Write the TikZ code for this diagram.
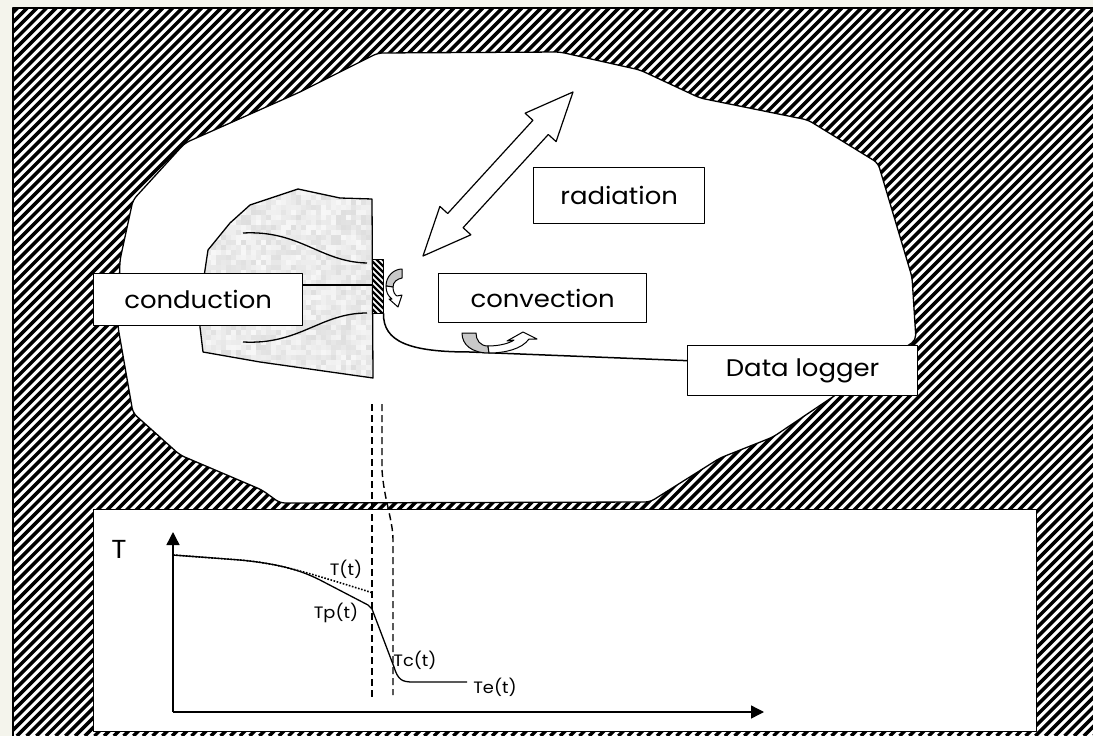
\documentclass[tikz,border=0pt]{standalone}
\usepackage{fontspec}
\setmainfont{Poppins}[FakeStretch=1.08]
\usetikzlibrary{calc,arrows.meta}

\definecolor{paper}{RGB}{244,244,236}
\definecolor{flow}{RGB}{200,200,200}

\begin{document}
\begin{tikzpicture}[x=1pt,y=-1pt,line join=round,
  outline/.style={draw=black,line width=1.3pt},
  labelbox/.style={outline,fill=white,anchor=north west,inner sep=0pt,
    font=\fontsize{24}{28}\selectfont},
  small/.style={inner sep=0pt,font=\fontsize{16.5}{19}\selectfont},
  axis/.style={line width=1.4pt,-{Triangle[length=13pt,width=13pt]}},
  guide/.style={line width=1.4pt,dash pattern=on 7pt off 4pt}]

\useasboundingbox (0,0) rectangle (1093,736);
\fill[paper] (0,0) rectangle (1093,736);

% hatched enclosure walls
\begin{scope}
  \clip (13,8) rectangle (1093,736);
  \fill[white] (13,8) rectangle (1093,736);
  \foreach \c in {-730,-720.3,...,1100}
    \draw[line width=3.5pt] (\c,736) -- ++(728,-728);
\end{scope}
\draw[line width=1.2pt] (13,736) -- (13,8) -- (1093,8);

% open room inside the walls
\filldraw[fill=white,line width=1.3pt,rounded corners=5pt]
  (185,143) -- (300,92) -- (378,53) -- (560,52) -- (640,70) -- (700,98)
  -- (808,120) -- (878,163) -- (912,277) -- (916,340) -- (840,392)
  -- (773,437) -- (720,458) -- (650,502) -- (280,503) -- (262,490)
  -- (180,455) -- (133,413) -- (118,327) -- (120,260) -- (133,200) -- cycle;

% stone block with speckled texture
\def\stoneblock{(250,205) -- (298,189) -- (340,198) -- (372,199) -- (373,378)
  -- (260,362) -- (203,352) -- (200,327) -- (202,290) -- (208,250) -- (230,223) -- cycle}
\begin{scope}
  \clip \stoneblock;
  \pgfmathsetseed{11}
  \foreach \i in {196,201,...,376}
    \foreach \j in {185,190,...,381}{
      \pgfmathsetmacro\g{3+10*rnd}
      \fill[black!\g] (\i,\j) rectangle ++(5,5);
    }
\end{scope}
\draw[line width=1.3pt] \stoneblock;

% heat flow lines inside the block
\draw[line width=1.3pt] (243,233) .. controls (300,230) and (320,262) .. (367,263);
\draw[line width=1.3pt] (243,342) .. controls (300,345) and (320,313) .. (367,313);

% sensor on the block face
\node[draw,line width=1pt,fill=white,minimum width=11pt,minimum height=54pt,
  inner sep=0pt,path picture={
    \foreach \k in {-70,-64,...,20}
      \draw[line width=2.2pt] ([xshift=-4pt,yshift=\k pt]path picture bounding box.north west)
        -- ++(40pt,-40pt);
  }] (sensor) at (377.5,286) {};

% labels
\node[labelbox,minimum width=209pt,minimum height=52pt] (conduction) at (93,273) {conduction\hspace{27pt}};
\node[labelbox,minimum width=171pt,minimum height=56pt] (radiation) at (533,167) {radiation\hspace{15pt}};
\node[labelbox,minimum width=208pt,minimum height=49pt] (convection) at (438,273) {convection\hspace{18pt}};

\coordinate (lineend) at (sensor.west |- 0,285);
\draw[line width=1.3pt] (conduction.east |- lineend) -- (lineend);

% radiation exchange arrow
\filldraw[fill=white,line width=1.2pt]
  (573,92) -- (556.1,141.6) -- (548.3,134.5) -- (463.1,227.7) -- (470.9,234.8)
  -- (423,256) -- (439.9,206.4) -- (447.7,213.5) -- (532.9,120.3) -- (525.1,113.2) -- cycle;

% convection swirl at the sensor
\filldraw[fill=flow,line width=1pt]
  (402,269) -- (402,278) .. controls (397,279) and (393,282) .. (393,287)
  -- (386,286) .. controls (386,276) and (394,269) .. (402,269) -- cycle;
\filldraw[fill=white,line width=1pt]
  (386,286) -- (393,287) .. controls (393,292) and (395,295) .. (397,296)
  -- (402,295) -- (398,307) -- (389,299) -- (392,299)
  .. controls (388,296) and (386,292) .. (386,286) -- cycle;

% data logger and cable
\node[labelbox,minimum width=230pt,minimum height=50pt] (logger) at (687,345) {Data logger\hspace{30pt}};
\draw[line width=1.5pt] (sensor.south east) .. controls (383,342) and (410,352) .. (470,352)
  -- ($(logger.west)+(0,-10)$);

% convection swirl along the cable
\filldraw[fill=flow,line width=1pt]
  (462,333) -- (476,333) .. controls (476,340) and (480,346) .. (488,346)
  -- (489,353) .. controls (472,353) and (462,345) .. (462,333) -- cycle;
\filldraw[fill=white,line width=1pt]
  (488,346) .. controls (500,346) and (510,343) .. (514,340) -- (507,341)
  -- (523,332) -- (537,339) -- (529,339) .. controls (522,349) and (505,353) .. (489,353) -- cycle;

% temperature chart
\node[outline,fill=white,anchor=north west,minimum width=943pt,minimum height=222pt,inner sep=0pt]
  (chart) at (93,509) {};
\coordinate (origin) at (173,712);
\draw[axis] (origin) -- (173,532);
\draw[axis] (origin) -- (764,712);
\node[inner sep=0pt,font=\fontsize{26}{30}\selectfont] (tlabel) at (119,549) {T};

\draw[line width=1.6pt,dash pattern=on 1.6pt off 1.6pt] (173,555) -- (240,560) .. controls (275,563) and (300,570) .. (373,593);
\draw[line width=1.3pt] (173,555) -- (240,560) .. controls (280,564) and (300,570) .. (320,580)
  -- (368,605) -- (372,609) -- (394,667) .. controls (398,680) and (402,682) .. (413,682) -- (467,682);

\node[small] (tt) at (346,569) {T(t)};
\node[small] (tp) at (336,613) {Tp(t)};
\node[small] (tc) at (415,660) {Tc(t)};
\node[small] (te) at (495,687) {Te(t)};

\draw[guide] (372,404) -- (372,700);
\draw[guide] (382,404) -- (382,470) .. controls (384,500) and (393,520) .. (393,540) -- (393,695);
\end{tikzpicture}
\end{document}
